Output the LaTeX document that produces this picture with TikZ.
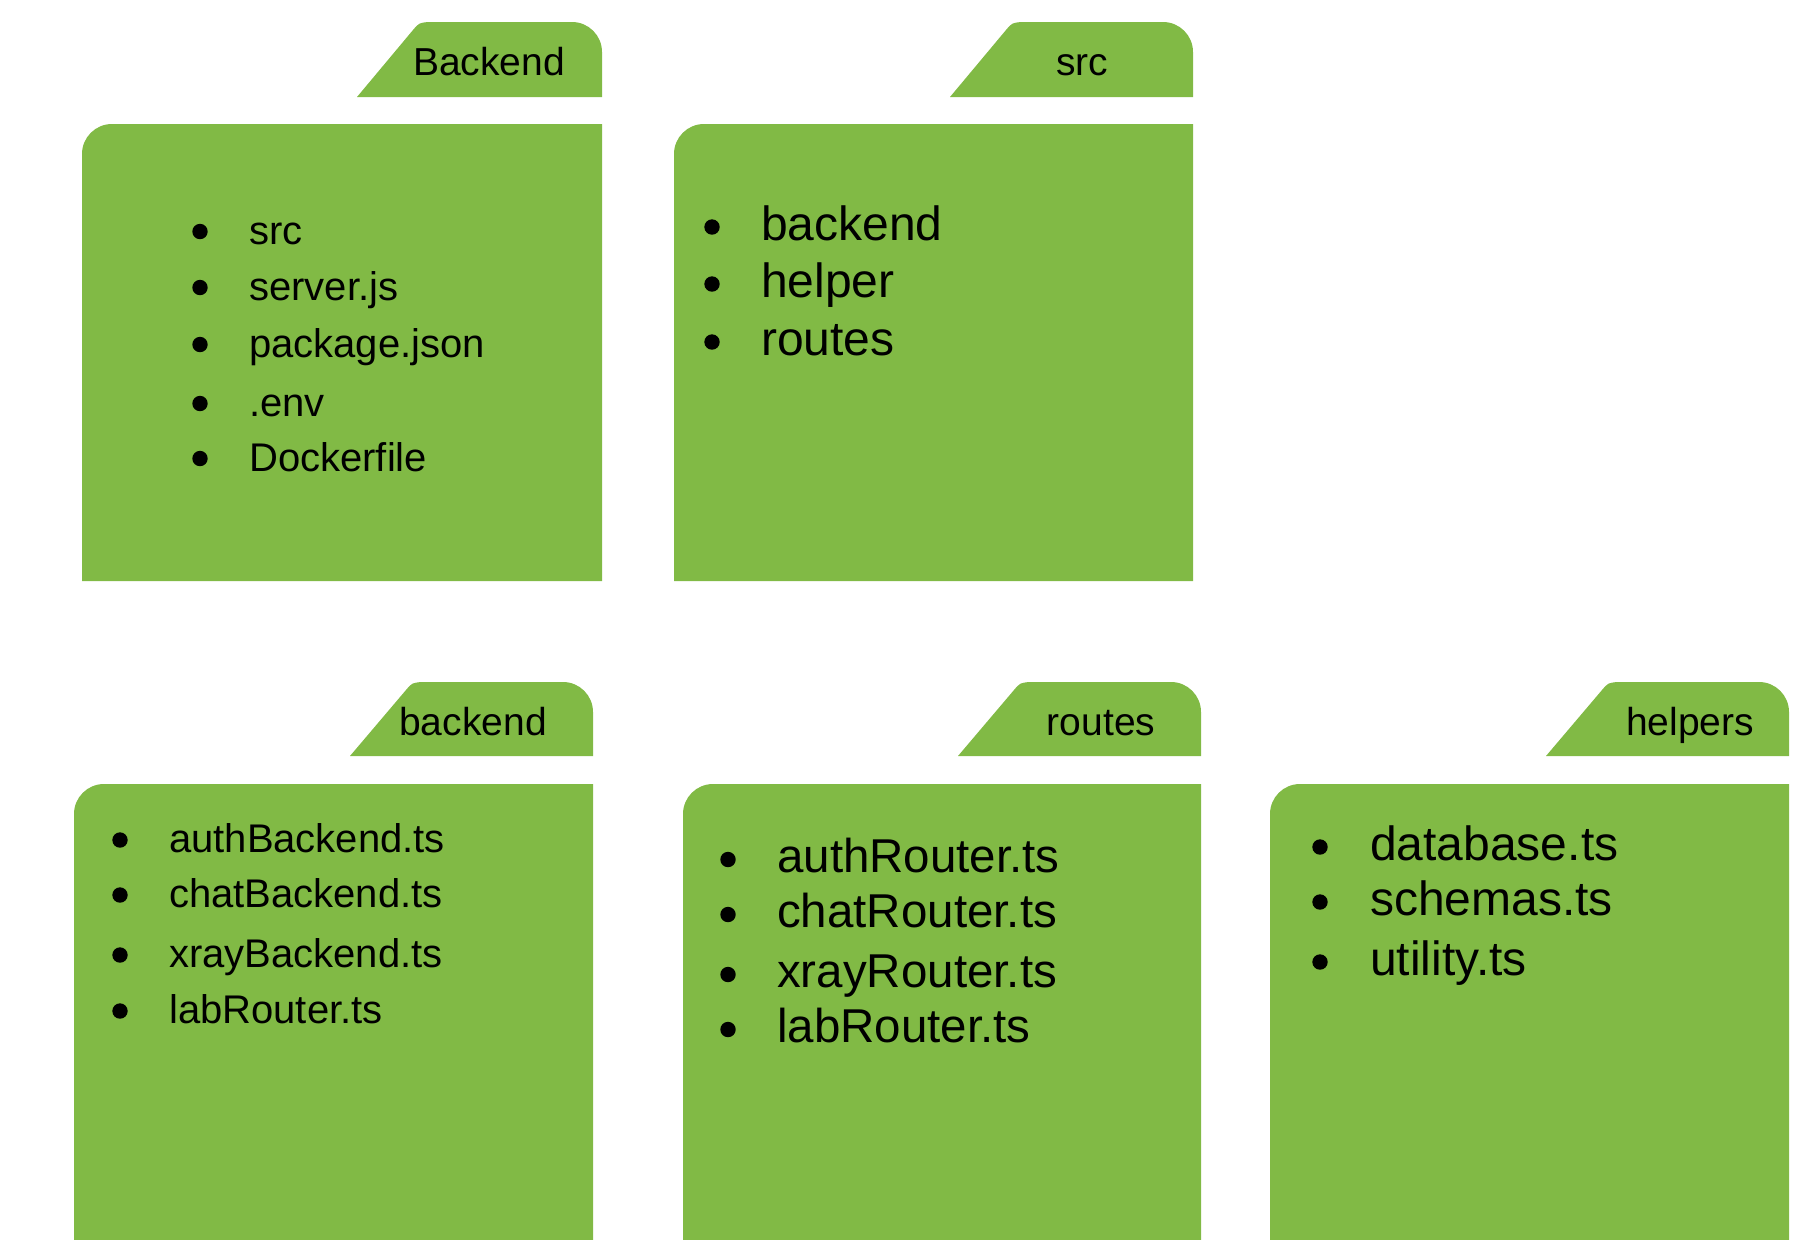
\documentclass[tikz,border=0pt]{standalone}
\usepackage{fontspec}
\setmainfont{Liberation Sans}
\definecolor{fgreen}{HTML}{81BA45}
\begin{document}
\begin{tikzpicture}[x=1pt,y=1pt,
  folder/.style={fill=fgreen},
  tablabel/.style={anchor=base,inner sep=0pt,font=\fontsize{39}{46}\selectfont},
  itemA/.style={anchor=base west,inner sep=0pt,font=\fontsize{40}{46}\selectfont},
  itemB/.style={anchor=base west,inner sep=0pt,font=\fontsize{48}{56}\selectfont},
  itemC/.style={anchor=base west,inner sep=0pt,font=\fontsize{40}{46}\selectfont},
  itemD/.style={anchor=base west,inner sep=0pt,font=\fontsize{47.5}{54}\selectfont},
  bul/.style={fill=black}]
\useasboundingbox (0,-1240) rectangle (1808,0);
\begin{scope}
\clip (0,-1240) rectangle (1808,0);
% Folder 1: Backend
\fill[folder] (357,-97) -- (413,-30) .. controls (419,-23) .. (428,-22) -- (572,-22) arc[start angle=90,end angle=0,radius=30] -- (602,-97) -- cycle;
\fill[folder] (82,-154) arc[start angle=180,end angle=90,radius=30] -- (602,-124) -- (602,-581) -- (82,-581) -- cycle;
% Folder 2: src
\fill[folder] (950,-97) -- (1006,-30) .. controls (1012,-23) .. (1021,-22) -- (1163,-22) arc[start angle=90,end angle=0,radius=30] -- (1193,-97) -- cycle;
\fill[folder] (674,-154) arc[start angle=180,end angle=90,radius=30] -- (1193,-124) -- (1193,-581) -- (674,-581) -- cycle;
% Folder 3: backend
\fill[folder] (350,-756) -- (406,-690) .. controls (412,-683) .. (421,-682) -- (563,-682) arc[start angle=90,end angle=0,radius=30] -- (593,-756) -- cycle;
\fill[folder] (74,-814) arc[start angle=180,end angle=90,radius=30] -- (593,-784) -- (593,-1240) -- (74,-1240) -- cycle;
% Folder 4: routes
\fill[folder] (958,-756) -- (1014,-690) .. controls (1020,-683) .. (1029,-682) -- (1171,-682) arc[start angle=90,end angle=0,radius=30] -- (1201,-756) -- cycle;
\fill[folder] (683,-814) arc[start angle=180,end angle=90,radius=30] -- (1201,-784) -- (1201,-1240) -- (683,-1240) -- cycle;
% Folder 5: helpers
\fill[folder] (1546,-756) -- (1602,-690) .. controls (1608,-683) .. (1617,-682) -- (1759,-682) arc[start angle=90,end angle=0,radius=30] -- (1789,-756) -- cycle;
\fill[folder] (1270,-814) arc[start angle=180,end angle=90,radius=30] -- (1789,-784) -- (1789,-1240) -- (1270,-1240) -- cycle;
\end{scope}
% tab labels
\node[tablabel] (t1) at (489,-75) {Backend};
\node[tablabel] (t2) at (1082,-75) {src};
\node[tablabel] (t3) at (473,-735) {backend};
\node[tablabel] (t4) at (1101,-735) {routes};
\node[tablabel] (t5) at (1690,-735) {helpers};
% Folder 1 items
\foreach \yb/\txt/\nm in {244/src/a1, 300/server.js/a2, 357/package.json/a3, 416/.env/a4, 471/Dockerfile/a5}{
  \fill[bul] (200,-\yb+12.5) circle[radius=7.7];
  \node[itemA] (\nm) at (249,-\yb) {\txt};
}
% Folder 2 items
\foreach \yb/\txt/\nm in {240/backend/b1, 297/helper/b2, 355/routes/b3}{
  \fill[bul] (712,-\yb+13) circle[radius=7.7];
  \node[itemB] (\nm) at (761,-\yb) {\txt};
}
% Folder 3 items
\foreach \yb/\txt/\nm in {852/authBackend.ts/c1, 907/chatBackend.ts/c2, 967/xrayBackend.ts/c3, 1023/labRouter.ts/c4}{
  \fill[bul] (120,-\yb+12) circle[radius=7.7];
  \node[itemC] (\nm) at (169,-\yb) {\txt};
}
% Folder 4 items
\foreach \yb/\txt/\nm in {872/authRouter.ts/d1, 927/chatRouter.ts/d2, 987/xrayRouter.ts/d3, 1042/labRouter.ts/d4}{
  \fill[bul] (728,-\yb+12.5) circle[radius=7.7];
  \node[itemD] (\nm) at (777,-\yb) {\txt};
}
% Folder 5 items
\foreach \yb/\txt/\nm in {860/database.ts/e1, 915/schemas.ts/e2, 975/utility.ts/e3}{
  \fill[bul] (1320,-\yb+13) circle[radius=7.7];
  \node[itemB] (\nm) at (1370,-\yb) {\txt};
}
\end{tikzpicture}
\end{document}
